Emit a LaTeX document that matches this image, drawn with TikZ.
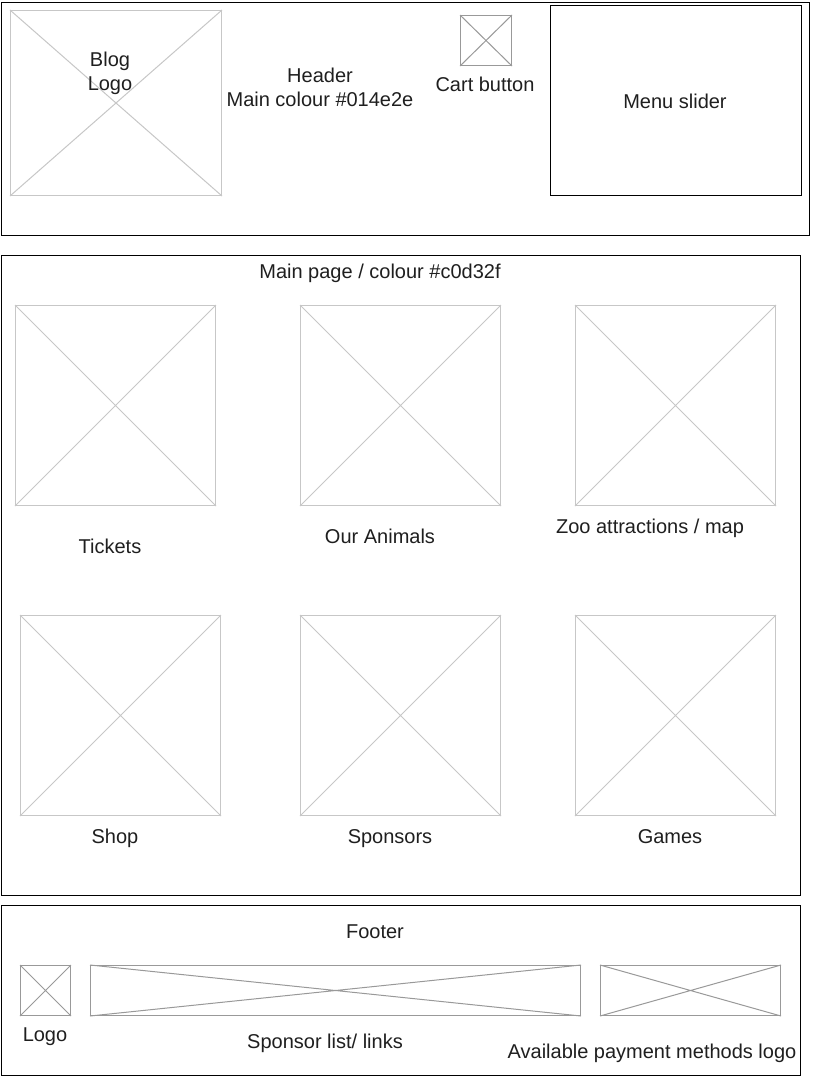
\documentclass[tikz,border=0pt]{standalone}
\usepackage{fontspec}
\setmainfont{Liberation Sans}
\begin{document}
\begin{tikzpicture}[x=1pt,y=-1pt,
  frame/.style={draw=black, line width=1pt},
  ph/.style={draw=#1, line width=1pt, anchor=north west, inner sep=0pt},
  ph/.default={black!22},
  lbl/.style={font=\fontsize{20}{24}\selectfont, text=black!88, align=center, inner sep=0pt},
  lbl1/.style={lbl, text height=14.5pt, text depth=4.5pt}]
\useasboundingbox (0,0) rectangle (812,1077);
\fill[white] (0,0) rectangle (812,1077);

% cross-out placeholder image: box plus both diagonals
\newcommand{\placeholder}[6]{%
  \node[ph=#6, minimum width=#4pt, minimum height=#5pt] (#1) at (#2,#3) {};
  \draw[#6, line width=1pt] (#1.north west) -- (#1.south east)
                            (#1.south west) -- (#1.north east);}

% ---------------- header ----------------
\node[frame, anchor=north west, minimum width=808pt, minimum height=233pt] (header) at (1,2) {};
\placeholder{blog}{10}{10}{211}{185}{black!22}
\node[lbl] (blogtxt) at (110,73) {Blog\\Logo};
\node[lbl] (headtxt) at (320,87) {Header\\Main colour \#014e2e};
\placeholder{cart}{460}{15}{51}{50}{black!40}
\node[lbl1] (carttxt) at (485,86) {Cart button};
\node[frame, anchor=north west, minimum width=251pt, minimum height=190pt] (menu) at (550,5) {};
\node[lbl1] (menutxt) at (675,103) {Menu slider};

% ---------------- main page ----------------
\node[frame, anchor=north west, minimum width=799pt, minimum height=640pt] (main) at (1,255) {};
\node[lbl1] (maintxt) at (380,273) {Main page / colour \#c0d32f};
\placeholder{tickets}{15}{305}{200}{200}{black!22}
\placeholder{animals}{300}{305}{200}{200}{black!22}
\placeholder{zoo}{575}{305}{200}{200}{black!22}
\node[lbl1] (ticketstxt) at (110,548) {Tickets};
\node[lbl1] (animalstxt) at (380,538) {Our Animals};
\node[lbl1] (zootxt) at (650,528) {Zoo attractions / map};
\placeholder{shop}{20}{615}{200}{200}{black!22}
\placeholder{sponsors}{300}{615}{200}{200}{black!22}
\placeholder{games}{575}{615}{200}{200}{black!22}
\node[lbl1] (shoptxt) at (115,838) {Shop};
\node[lbl1] (sponsorstxt) at (390,838) {Sponsors};
\node[lbl1] (gamestxt) at (670,838) {Games};

% ---------------- footer ----------------
\node[frame, anchor=north west, minimum width=799pt, minimum height=170pt] (footer) at (1,905) {};
\node[lbl1] (footertxt) at (375,933) {Footer};
\placeholder{flogo}{20}{965}{50}{50}{black!40}
\placeholder{slist}{90}{965}{490}{50}{black!40}
\placeholder{pay}{600}{965}{180}{50}{black!40}
\node[lbl1] (flogotxt) at (45,1036) {Logo};
\node[lbl1] (slisttxt) at (325,1043) {Sponsor list/ links};
\node[lbl1] (paytxt) at (652,1053) {Available payment methods logo};
\end{tikzpicture}
\end{document}
